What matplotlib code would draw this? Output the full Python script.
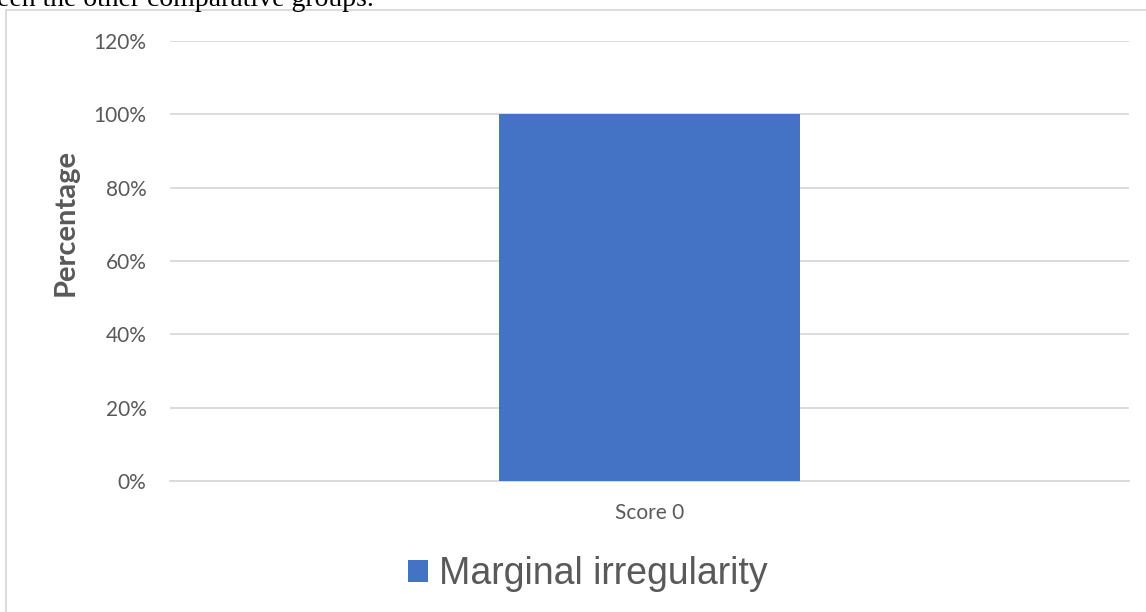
import matplotlib
matplotlib.use("Agg")
import matplotlib.pyplot as plt
from matplotlib.patches import Rectangle
from matplotlib.ticker import FuncFormatter

categories = ["Score 0"]
values = [100]
series_name = "Marginal irregularity"
yticks = [0, 20, 40, 60, 80, 100, 120]

W, H = 1146, 612
fig = plt.figure(figsize=(W / 100, H / 100), dpi=100)
fig.patch.set_facecolor("white")

# outer chart frame
fig.patches.append(Rectangle((6 / W, -0.1), 1.2, 1.1 - 10 / H, transform=fig.transFigure,
                             fill=False, edgecolor="#D9D9D9", linewidth=1.3))

# cut-off document text above the chart
fig.text(-3 / W, 1 - 6 / H, "een the other comparative groups.", family="Liberation Serif",
         fontsize=20, color="black", ha="left", va="baseline")

ax = fig.add_axes([170 / W, (H - 481) / H, (1129 - 170) / W, (481 - 41) / H])
ax.bar(categories, values, width=0.314, color="#4472C4", label=series_name, zorder=3)
ax.set_xlim(-0.5, 0.5)
ax.set_ylim(0, 120)
ax.set_yticks(yticks)
ax.yaxis.set_major_formatter(FuncFormatter(lambda v, p: f"{int(v)}%"))
ax.grid(axis="y", color="#D9D9D9", linewidth=1.3, zorder=0)
for s in ["top", "right", "left"]:
    ax.spines[s].set_visible(False)
ax.spines["bottom"].set_color("#D9D9D9")
ax.spines["bottom"].set_linewidth(1.3)
ax.tick_params(axis="both", length=0, colors="#595959", labelsize=15)
ax.tick_params(axis="y", pad=17)
ax.tick_params(axis="x", pad=16)
for lab in ax.get_xticklabels() + ax.get_yticklabels():
    lab.set_family("Lato")

fig.text(66 / W, 1 - 222 / H, "Percentage", rotation=90, family="Lato", fontweight="bold",
         fontsize=21, color="#595959", ha="center", va="center")

leg = fig.legend(loc="center", bbox_to_anchor=(588 / W, 1 - 574 / H), frameon=False,
                 prop={"family": "Liberation Sans", "size": 27}, handlelength=0.53,
                 handleheight=0.53, handletextpad=0.3, labelcolor="#595959")

fig.savefig("out.png", dpi=100, facecolor="white")
